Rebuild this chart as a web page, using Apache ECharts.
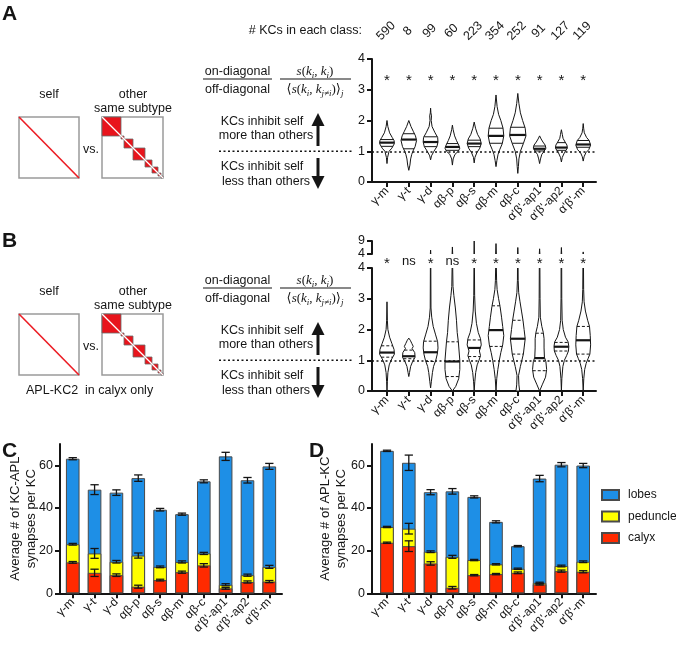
<!DOCTYPE html>
<html><head><meta charset="utf-8">
<script src="https://cdn.jsdelivr.net/npm/echarts@6/dist/echarts.min.js"></script>
<style>html,body{margin:0;padding:0;background:#fff}#c{width:676px;height:645px}</style>
</head><body><div id="c"></div>
<script>
// ---------------- DATA ----------------
const categories = ['γ-m','γ-t','γ-d','αβ-p','αβ-s','αβ-m','αβ-c',"α'β'-ap1","α'β'-ap2","α'β'-m"];
const kcCounts = [590, 8, 99, 60, 223, 354, 252, 91, 127, 119];
const sigA = ['*','*','*','*','*','*','*','*','*','*'];
const sigB = ['*','ns','*','ns','*','*','*','*','*','*'];

// violin profiles: [value, relative half-width]
const violinA = [
  [[0.6,0],[0.8,0.08],[1.0,0.28],[1.1,0.65],[1.25,1.0],[1.35,0.95],[1.45,0.7],[1.6,0.35],[1.8,0.12],[2.0,0]],
  [[0.38,0],[0.55,0.15],[0.75,0.25],[0.9,0.4],[1.0,0.55],[1.15,0.85],[1.35,1.05],[1.5,0.9],[1.65,0.6],[1.8,0.3],[2.0,0]],
  [[0.72,0],[0.85,0.12],[1.0,0.45],[1.15,0.85],[1.3,1.0],[1.45,0.95],[1.6,0.6],[1.8,0.2],[2.0,0.08],[2.15,0.12],[2.25,0.04],[2.4,0]],
  [[0.55,0],[0.75,0.1],[0.9,0.35],[1.0,0.8],[1.1,1.0],[1.2,0.85],[1.35,0.55],[1.5,0.3],[1.7,0.1],[1.85,0]],
  [[0.62,0],[0.8,0.1],[0.95,0.35],[1.1,0.75],[1.25,0.95],[1.4,0.8],[1.55,0.45],[1.75,0.18],[1.95,0]],
  [[0.5,0],[0.7,0.12],[0.9,0.28],[1.05,0.5],[1.25,0.85],[1.5,1.05],[1.75,0.95],[2.0,0.65],[2.2,0.35],[2.45,0.15],[2.83,0]],
  [[0.28,0],[0.5,0.08],[0.75,0.15],[1.0,0.35],[1.25,0.75],[1.5,1.1],[1.75,1.0],[2.0,0.65],[2.25,0.35],[2.55,0.15],[2.88,0]],
  [[0.6,0],[0.75,0.12],[0.9,0.3],[1.0,0.6],[1.1,0.85],[1.2,0.75],[1.3,0.45],[1.4,0.2],[1.5,0]],
  [[0.65,0],[0.8,0.12],[0.95,0.4],[1.1,0.8],[1.2,0.75],[1.3,0.5],[1.42,0.22],[1.55,0.12],[1.7,0]],
  [[0.68,0],[0.82,0.12],[0.95,0.35],[1.05,0.75],[1.2,1.0],[1.35,0.8],[1.45,0.45],[1.6,0.15],[1.75,0.06],[1.9,0]]
];
const quartilesA = [[1.16,1.28,1.38],[1.08,1.38,1.57],[1.15,1.3,1.47],[1.03,1.14,1.25],[1.15,1.25,1.36],
                    [1.26,1.5,1.75],[1.26,1.53,1.78],[1.01,1.08,1.17],[1.03,1.12,1.28],[1.13,1.22,1.35]];

const violinB = [
  [[0,0],[0.3,0.05],[0.6,0.12],[0.85,0.3],[1.0,0.55],[1.2,1.0],[1.35,0.95],[1.55,0.65],[1.75,0.35],[2.0,0.12],[2.3,0.05],[2.9,0]],
  [[0.47,0],[0.6,0.1],[0.8,0.25],[0.95,0.5],[1.1,0.85],[1.25,0.8],[1.38,0.45],[1.45,0.6],[1.55,0.4],[1.65,0.2],[1.72,0]],
  [[0.1,0],[0.3,0.1],[0.6,0.25],[0.8,0.4],[1.0,0.7],[1.2,0.9],[1.4,1.0],[1.6,0.95],[1.85,0.65],[2.1,0.35],[2.4,0.15],[2.7,0.05],[4.0,0.03],[5.5,0]],
  [[0,0],[0.15,0.45],[0.4,0.85],[0.7,1.0],[1.0,1.0],[1.3,0.9],[1.6,0.8],[1.9,0.65],[2.3,0.55],[2.7,0.4],[3.1,0.2],[3.4,0.08],[4.0,0.04],[6.7,0]],
  [[0,0],[0.3,0.08],[0.6,0.2],[0.85,0.4],[1.0,0.65],[1.15,0.85],[1.3,0.7],[1.5,0.95],[1.7,0.85],[1.9,0.55],[2.2,0.3],[2.6,0.14],[3.1,0.06],[4.0,0.03],[9,0]],
  [[0,0],[0.4,0.1],[0.7,0.25],[1.0,0.45],[1.25,0.65],[1.5,0.9],[1.8,1.05],[2.1,0.9],[2.4,0.75],[2.75,0.55],[3.0,0.35],[3.3,0.15],[3.6,0.08],[4.0,0.05],[8,0]],
  [[0,0.25],[0.2,0.15],[0.5,0.1],[0.8,0.35],[1.0,0.55],[1.2,0.75],[1.4,0.85],[1.7,1.0],[2.0,0.85],[2.3,0.7],[2.6,0.5],[2.9,0.3],[3.2,0.12],[3.6,0.05],[4.0,0.04],[6.5,0]],
  [[0,0],[0.2,0.35],[0.45,0.8],[0.7,0.95],[0.95,0.85],[1.1,0.65],[1.4,0.6],[1.7,0.6],[1.9,0.5],[2.1,0.3],[2.4,0.1],[3,0.06],[4,0.04],[6,0]],
  [[0,0],[0.4,0.06],[0.8,0.2],[1.0,0.4],[1.15,0.7],[1.3,0.95],[1.45,1.0],[1.6,0.9],[1.75,0.55],[2.0,0.25],[2.3,0.1],[3,0.05],[4,0.04],[6.5,0]],
  [[0,0],[0.4,0.08],[0.7,0.2],[0.9,0.4],[1.05,0.65],[1.2,0.9],[1.5,1.0],[1.8,0.95],[2.1,0.85],[2.3,0.6],[2.6,0.3],[2.9,0.12],[3.3,0.06],[4,0.04],[4.8,0]]
];
const quartilesB = [[1.1,1.25,1.47],[1.05,1.13,1.33],[0.96,1.26,1.62],[0.47,0.96,1.6],[1.12,1.4,1.66],
                    [1.45,1.98,2.77],[1.2,1.7,2.3],[0.66,1.07,1.88],[1.3,1.44,1.58],[1.2,1.65,2.1]];

// Panel C: KC-APL synapses per KC (segment means and SEM)
const calyxC    = [14.5, 9.6, 8.5, 3.1, 6.2, 9.9, 13.1, 2.3, 5.3, 5.5];
const peduncleC = [8.5, 9.1, 6.3, 14.6, 6.2, 4.8, 5.6, 1.7, 3.2, 6.9];
const lobesC    = [40.1, 29.9, 32.4, 36.3, 26.8, 22.4, 33.8, 60.2, 44.5, 47.1];
const calyxCErr    = [0.4, 1.7, 0.6, 0.7, 0.4, 0.5, 0.8, 0.4, 0.5, 0.5];
const peduncleCErr = [0.4, 2.3, 0.6, 1.2, 0.4, 0.5, 0.5, 0.5, 0.5, 0.7];
const lobesCErr    = [0.5, 2.3, 1.3, 1.5, 0.6, 0.5, 0.7, 1.9, 1.3, 1.4];

// Panel D: APL-KC synapses per KC
const calyxD    = [23.7, 22.1, 14.0, 2.6, 8.5, 9.0, 9.6, 4.2, 10.4, 10.1];
const peduncleD = [7.4, 8.2, 5.5, 14.5, 7.1, 4.6, 1.9, 0.7, 2.4, 4.7];
const lobesD    = [35.7, 30.9, 27.9, 30.7, 29.6, 19.9, 10.6, 48.9, 47.5, 45.1];
const calyxDErr    = [0.3, 2.5, 0.8, 0.6, 0.3, 0.3, 0.4, 0.3, 0.5, 0.5];
const peduncleDErr = [0.3, 2.5, 0.4, 0.7, 0.3, 0.3, 0.3, 0.3, 0.4, 0.4];
const lobesDErr    = [0.3, 3.6, 1.2, 1.3, 0.5, 0.5, 0.3, 1.5, 1.0, 1.0];

const tickA = [0,1,2,3,4];
const tickBupper = [4,9];
const tickBars = [0,20,40,60];

// ---------------- STYLE / LAYOUT ----------------
const SANS = "'Liberation Sans', Arial, Helvetica, sans-serif";
const SERIF = "'Liberation Serif', 'DejaVu Serif', serif";
const INK = '#151515';
const COL = {lobes:'#1e8fe6', peduncle:'#ffff00', calyx:'#ff2a00'};
const idx = categories.map((c,i)=>i);
const VW = 0.34; // violin half-width scale (category units)

const chart = echarts.init(document.getElementById('c'), null, {renderer:'canvas', width:676, height:645});

function grid(left, top, width, height){ return {left, top, width, height, containLabel:false, outerBoundsMode:'none'}; }
const lineSt = {color:INK, width:2};
function xAx(gi, min, max, show){
  return {type:'value', gridIndex:gi, min, max, show:show!==false,
    axisLine:{show:true, onZero:false, lineStyle:lineSt},
    axisTick:{show:true, length:5, customValues:idx, lineStyle:lineSt},
    axisLabel:{show:true, customValues:idx, rotate:45, margin:7, fontSize:12, fontFamily:SANS, color:INK,
      formatter:v=>categories[Math.round(v)]},
    splitLine:{show:false}};
}
function yAx(gi, min, max, ticks, extra){
  return Object.assign({type:'value', gridIndex:gi, min, max,
    axisLine:{show:true, onZero:false, lineStyle:lineSt},
    axisTick:{show:true, length:5, customValues:ticks, lineStyle:lineSt},
    axisLabel:{show:true, customValues:ticks, margin:7, fontSize:12.5, fontFamily:SANS, color:INK},
    splitLine:{show:false}}, extra||{});
}

function densityAt(prof, v){
  for (let k=0;k<prof.length-1;k++){
    const a=prof[k], b=prof[k+1];
    if (v>=a[0] && v<=b[0]) return a[1]+(b[1]-a[1])*(v-a[0])/(b[0]-a[0]);
  }
  return 0;
}
function violinRender(profiles, quarts, dashed){
  return function(params, api){
    const i = api.value(0);
    const prof = profiles[i];
    const right = prof.map(p=>api.coord([i + p[1]*VW, p[0]]));
    const left = prof.slice().reverse().map(p=>api.coord([i - p[1]*VW, p[0]]));
    const children = [{type:'polygon', shape:{points:right.concat(left)}, style:{fill:'#fff', stroke:INK, lineWidth:1}}];
    quarts[i].forEach((q,k)=>{
      const hw = densityAt(prof, q)*VW;
      const a = api.coord([i-hw, q]), b = api.coord([i+hw, q]);
      children.push({type:'line', shape:{x1:a[0],y1:a[1],x2:b[0],y2:b[1]},
        style:{stroke:INK, lineWidth:k===1?2.2:1, lineDash:(dashed && k!==1)?[3,2]:null}});
    });
    return {type:'group', children};
  };
}
function textSeries(xi, yi, labels, yVal, opts){
  return {type:'custom', xAxisIndex:xi, yAxisIndex:yi, clip:false, silent:true, z:6,
    data: idx.map(i=>[i, yVal]),
    renderItem:(params, api)=>{
      const i = api.value(0);
      const p = api.coord([i, api.value(1)]);
      const t = String(labels[i]);
      const star = t==='*';
      return {type:'text', x:p[0]+(opts.dx||0), y:p[1]+(star?(opts.starDy||0):0), rotation:opts.rotation||0,
        style:{text:t, fill:INK, fontSize: star?(opts.starSize||15):(opts.size||12.5), fontFamily:SANS,
          align:'center', verticalAlign:'middle'}};
    }};
}
const dotLine = {silent:true, symbol:['none','none'], label:{show:false},
  lineStyle:{color:INK, type:[2,2.5], width:1.5}, data:[{yAxis:1}]};

// stacked bars drawn as cumulative heights (tallest first, so shorter ones sit on top)
function cumulative(segs){ return idx.map(i=>segs.reduce((s,a)=>s+a[i],0)); }
function barSeries(name, vals, xi, yi){
  return {type:'bar', name, xAxisIndex:xi, yAxisIndex:yi, barWidth:13.6, barGap:'-100%',
    data: vals.map((v,i)=>[i,v]),
    itemStyle:{color:COL[name], borderColor:'#4a4a4a', borderWidth:1},
    emphasis:{disabled:true}, z:2};
}
function errSeries(segs, errs, xi, yi){
  const data = [];
  idx.forEach(i=>{
    let cum = 0;
    segs.forEach((s,k)=>{ cum += s[i]; data.push([i, cum, errs[k][i]]); });
  });
  return {type:'custom', xAxisIndex:xi, yAxisIndex:yi, z:5, silent:true, clip:false, data,
    renderItem:(params, api)=>{
      const x = api.value(0), top = api.value(1), e = api.value(2);
      const p1 = api.coord([x, top+e]), p2 = api.coord([x, top-e]);
      const cw = api.size([0.19, 0])[0];
      const st = {stroke:INK, lineWidth:1.3};
      return {type:'group', children:[
        {type:'line', shape:{x1:p1[0],y1:p1[1],x2:p2[0],y2:p2[1]}, style:st},
        {type:'line', shape:{x1:p1[0]-cw,y1:p1[1],x2:p1[0]+cw,y2:p1[1]}, style:st},
        {type:'line', shape:{x1:p2[0]-cw,y1:p2[1],x2:p2[0]+cw,y2:p2[1]}, style:st}
      ]};
    }};
}

// ---------------- ANNOTATION GRAPHICS ----------------
const G = [];
function txt(x,y,text,o){ G.push({type:'text', x, y, silent:true, style:Object.assign({text, fill:INK, font:'12.5px '+SANS, align:'center', verticalAlign:'middle'}, o||{})}); }
function ln(x1,y1,x2,y2,o){ G.push({type:'line', silent:true, shape:{x1,y1,x2,y2}, style:Object.assign({stroke:INK, lineWidth:1}, o||{})}); }
function rc(x,y,w,h,o){ G.push({type:'rect', silent:true, shape:{x,y,width:w,height:h}, style:o}); }
function pg(points,o){ G.push({type:'polygon', silent:true, shape:{points}, style:Object.assign({fill:INK}, o||{})}); }

function diagrams(dy){
  txt(49, 95+dy, 'self'); txt(133, 95+dy, 'other'); txt(133, 109+dy, 'same subtype'); txt(91, 150+dy, 'vs.');
  rc(19, 117+dy, 60, 61, {fill:'#fff', stroke:'#9a9a9a', lineWidth:1.5});
  ln(19, 117+dy, 79, 178+dy, {stroke:'#ec1c24', lineWidth:1.6});
  rc(102, 117+dy, 61, 61, {fill:'#fff', stroke:'#9a9a9a', lineWidth:1.5});
  const blocks = [[0,19],[19,22],[22,31],[31,43],[43,50],[50,56],[56,59],[59,61]];
  blocks.forEach(b=>rc(102+b[0], 117+dy+b[0], b[1]-b[0], b[1]-b[0], {fill:'#e8141c', stroke:'#6a6a6a', lineWidth:0.8}));
  ln(102, 117+dy, 163, 178+dy, {stroke:'#fff', lineWidth:1.3});
}
const richF = {
  i:{fontFamily:SERIF, fontStyle:'italic', fontSize:13, lineHeight:16, fill:INK},
  r:{fontFamily:SERIF, fontSize:13, lineHeight:16, fill:INK},
  s:{fontFamily:SERIF, fontStyle:'italic', fontSize:9, lineHeight:16, verticalAlign:'bottom', fill:INK}
};
function formula(dy){
  txt(237.5, 72+dy, 'on-diagonal'); ln(203, 79+dy, 272, 79+dy, {lineWidth:1.2}); txt(237.5, 90+dy, 'off-diagonal');
  G.push({type:'text', x:315, y:72+dy, silent:true, style:{text:'{i|s}{r|(}{i|k}{s|i}{r|, }{i|k}{s|i}{r|)}', rich:richF, align:'center', verticalAlign:'middle'}});
  ln(280, 79+dy, 351, 79+dy, {lineWidth:1.2});
  G.push({type:'text', x:315, y:90+dy, silent:true, style:{text:'{r|⟨}{i|s}{r|(}{i|k}{s|i}{r|, }{i|k}{s|j≠i}{r|)⟩}{s|j}', rich:richF, align:'center', verticalAlign:'middle'}});
  txt(262, 122+dy, 'KCs inhibit self'); txt(266, 136+dy, 'more than others');
  pg([[316.5,124+dy],[319.5,124+dy],[319.5,146+dy],[316.5,146+dy]]);
  pg([[311.5,126+dy],[324.5,126+dy],[318,113+dy]]);
  ln(219, 151.25+dy, 352, 151.25+dy, {lineWidth:1.5, lineDash:[2,2.5]});
  txt(262, 167+dy, 'KCs inhibit self'); txt(266, 182+dy, 'less than others');
  pg([[316.5,158+dy],[319.5,158+dy],[319.5,178+dy],[316.5,178+dy]]);
  pg([[311.5,176+dy],[324.5,176+dy],[318,189+dy]]);
}
txt(2, 14.5, 'A', {font:'bold 21px '+SANS, align:'left'});
txt(2, 241.5, 'B', {font:'bold 21px '+SANS, align:'left'});
txt(2, 451.5, 'C', {font:'bold 21px '+SANS, align:'left'});
txt(309, 451.5, 'D', {font:'bold 21px '+SANS, align:'left'});
txt(362, 31, '# KCs in each class:', {align:'right'});
diagrams(0); formula(0);
diagrams(197); formula(209);
txt(26, 391, 'APL-KC2  in calyx only', {align:'left'});

// ---------------- OPTION ----------------
const nameSt = {fontSize:13, lineHeight:16, fontFamily:SANS, color:INK};
const option = {
  animation:false,
  backgroundColor:'#fff',
  textStyle:{fontFamily:SANS},
  grid:[ grid(372,59,224,123), grid(372,268,224,123), grid(372,241,224,13), grid(60,444,222,149.3), grid(372,444,224,149.3) ],
  xAxis:[ xAx(0,-0.688,9.587), xAx(1,-0.688,9.587), xAx(2,-0.688,9.587,false), xAx(3,-0.583,9.58), xAx(4,-0.688,9.587) ],
  yAxis:[
    yAx(0,0,4,tickA),
    yAx(1,0,4,tickA),
    yAx(2,4,9,tickBupper),
    yAx(3,0,70,tickBars,{name:'Average # of KC-APL\nsynapses per KC', nameLocation:'middle', nameRotate:90, nameGap:21,
      nameMoveOverlap:false, nameTextStyle:nameSt}),
    yAx(4,0,70,tickBars,{name:'Average # of APL-KC\nsynapses per KC', nameLocation:'middle', nameRotate:90, nameGap:23,
      nameMoveOverlap:false, nameTextStyle:nameSt})
  ],
  legend:{orient:'vertical', left:601, top:489, padding:0, itemWidth:17, itemHeight:10, itemGap:9.5, icon:'rect',
    data:['lobes','peduncle','calyx'], selectedMode:false,
    textStyle:{fontSize:12, fontFamily:SANS, color:INK, padding:[0,0,0,4]}},
  graphic:{elements:G},
  series:[
    {type:'custom', name:'violinA', xAxisIndex:0, yAxisIndex:0, clip:true, silent:true, z:3,
      data: idx.map(i=>[i, quartilesA[i][1]]), renderItem: violinRender(violinA, quartilesA, false), markLine: Object.assign({z:4}, dotLine)},
    {type:'custom', name:'violinB', xAxisIndex:1, yAxisIndex:1, clip:true, silent:true, z:3,
      data: idx.map(i=>[i, quartilesB[i][1]]), renderItem: violinRender(violinB, quartilesB, true), markLine: Object.assign({z:4}, dotLine)},
    {type:'custom', name:'violinBtop', xAxisIndex:2, yAxisIndex:2, clip:true, silent:true, z:3,
      data: idx.map(i=>[i, quartilesB[i][1]]), renderItem: violinRender(violinB, quartilesB, true)},
    textSeries(0, 0, kcCounts, 4.91, {rotation:Math.PI/4, size:12.5, dx:-1}),
    textSeries(0, 0, sigA, 3.35, {starDy:2, starSize:15}),
    textSeries(1, 1, sigB, 4.23, {starDy:3, starSize:15, size:13}),
    barSeries('lobes', cumulative([calyxC, peduncleC, lobesC]), 3, 3),
    barSeries('peduncle', cumulative([calyxC, peduncleC]), 3, 3),
    barSeries('calyx', calyxC, 3, 3),
    errSeries([calyxC, peduncleC, lobesC], [calyxCErr, peduncleCErr, lobesCErr], 3, 3),
    barSeries('lobes', cumulative([calyxD, peduncleD, lobesD]), 4, 4),
    barSeries('peduncle', cumulative([calyxD, peduncleD]), 4, 4),
    barSeries('calyx', calyxD, 4, 4),
    errSeries([calyxD, peduncleD, lobesD], [calyxDErr, peduncleDErr, lobesDErr], 4, 4)
  ]
};
chart.setOption(option);
</script>
</body></html>
